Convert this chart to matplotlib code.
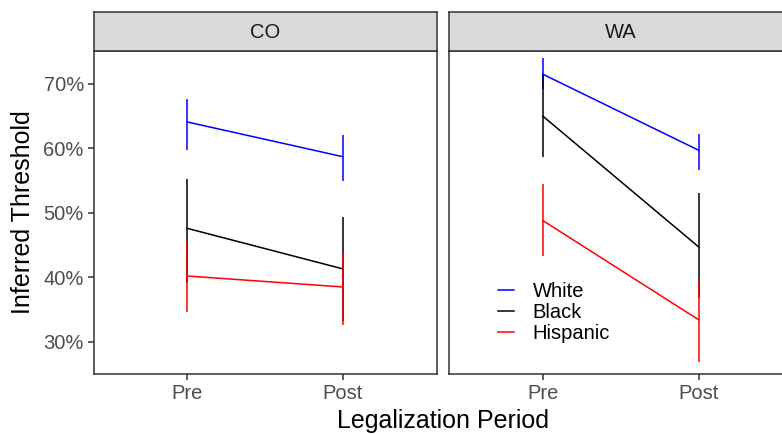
import matplotlib
matplotlib.use("Agg")
import matplotlib.pyplot as plt
from matplotlib.ticker import PercentFormatter

plt.rcParams['font.family'] = ['Liberation Sans', 'DejaVu Sans']

# data
periods = ["Pre", "Post"]
states = ["CO", "WA"]
groups = ["White", "Black", "Hispanic"]
colors = {"White": "blue", "Black": "black", "Hispanic": "red"}

est = {
    "CO": {"White": [0.641, 0.587], "Black": [0.476, 0.413], "Hispanic": [0.402, 0.385]},
    "WA": {"White": [0.715, 0.597], "Black": [0.650, 0.447], "Hispanic": [0.488, 0.334]},
}
lo = {
    "CO": {"White": [0.598, 0.550], "Black": [0.391, 0.332], "Hispanic": [0.346, 0.326]},
    "WA": {"White": [0.692, 0.567], "Black": [0.587, 0.368], "Hispanic": [0.433, 0.268]},
}
hi = {
    "CO": {"White": [0.677, 0.620], "Black": [0.553, 0.494], "Hispanic": [0.455, 0.437]},
    "WA": {"White": [0.740, 0.623], "Black": [0.713, 0.530], "Hispanic": [0.544, 0.397]},
}

W, H = 782, 434
fig = plt.figure(figsize=(W / 100, H / 100), dpi=100)

panel_left = [93.5, 449.3]
pw = 343
ptop, pbot = 51, 374
stop = 12

frame_col = "#333333"
for i, st in enumerate(states):
    ax = fig.add_axes([panel_left[i] / W, (H - pbot) / H, pw / W, (pbot - ptop) / H])
    sx = fig.add_axes([panel_left[i] / W, (H - ptop) / H, pw / W, (ptop - stop) / H])
    xs = [1, 2]
    for g in groups:
        c = colors[g]
        ax.plot(xs, est[st][g], color=c, lw=1.1, label=g)
        ax.vlines(xs, lo[st][g], hi[st][g], color=c, lw=1.1)
    ax.set_xlim(0.4, 2.6)
    ax.set_ylim(0.25, 0.751)
    ax.set_xticks(xs)
    ax.set_xticklabels(periods)
    ax.set_yticks([0.3, 0.4, 0.5, 0.6, 0.7])
    ax.yaxis.set_major_formatter(PercentFormatter(1.0, decimals=0))
    ax.tick_params(colors="#333333", labelcolor="#4D4D4D", labelsize=14.5, length=4,
                   width=1.1, pad=3)
    for s in ax.spines.values():
        s.set_color(frame_col)
        s.set_linewidth(1.1)
    if i > 0:
        ax.tick_params(axis="y", left=False, labelleft=False)
    # facet strip
    sx.set_facecolor("#D9D9D9")
    sx.set_xticks([])
    sx.set_yticks([])
    for s in sx.spines.values():
        s.set_color(frame_col)
        s.set_linewidth(1.1)
    sx.text(0.5, 0.48, st, ha="center", va="center", fontsize=14.5, color="#1A1A1A",
            transform=sx.transAxes)
    if i == 0:
        ax.set_ylabel("Inferred Threshold", fontsize=18, labelpad=6)
    else:
        ax.legend(loc="lower left", bbox_to_anchor=(0.09, 0.04), frameon=False,
                  fontsize=14.5, handlelength=0.8, handletextpad=0.9, labelspacing=0.1)

fig.text(443 / W, (H - 421) / H, "Legalization Period", ha="center", va="center", fontsize=18)

fig.savefig("out.png", dpi=100)
